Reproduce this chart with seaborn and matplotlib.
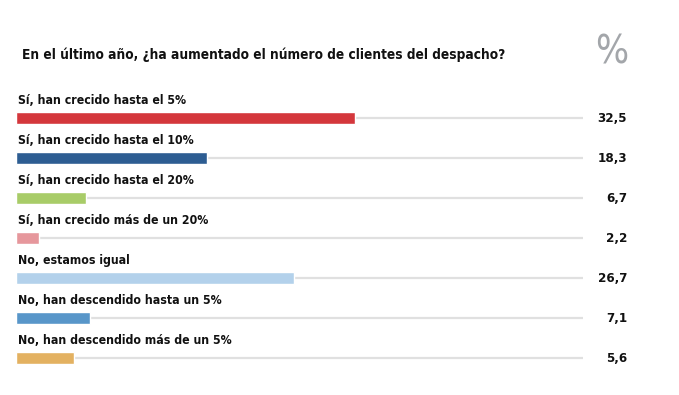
import matplotlib
matplotlib.use("Agg")
import matplotlib.pyplot as plt
import matplotlib.transforms as mtransforms
import seaborn as sns
import pandas as pd

categories = [
    "Sí, han crecido hasta el 5%",
    "Sí, han crecido hasta el 10%",
    "Sí, han crecido hasta el 20%",
    "Sí, han crecido más de un 20%",
    "No, estamos igual",
    "No, han descendido hasta un 5%",
    "No, han descendido más de un 5%",
]
values = [32.5, 18.3, 6.7, 2.2, 26.7, 7.1, 5.6]
value_labels = ["32,5", "18,3", "6,7", "2,2", "26,7", "7,1", "5,6"]
colors = ["#d4373c", "#2d5d92", "#a8cc68", "#e6979c", "#b3d1eb", "#5896c9", "#e3b161"]
title = "En el último año, ¿ha aumentado el número de clientes del despacho?"
axis_max = 54.4

sns.set_theme(style="white")
plt.rcParams["font.family"] = ["DejaVu Sans", "Liberation Sans"]
plt.rcParams["font.stretch"] = "condensed"

df = pd.DataFrame({"cat": categories, "val": values})

fig = plt.figure(figsize=(6.79, 3.95), dpi=100)
W, H = 679, 395
left, right = 16, 583
top_px, bot_px = 98, 378
ax = fig.add_axes([left / W, (H - bot_px) / H, (right - left) / W, (bot_px - top_px) / H])

for i in range(len(categories)):
    ax.axhline(i + 0.01, xmin=0, xmax=1, color="#e0e0e0", lw=1.6, zorder=0)

sns.barplot(data=df, x="val", y="cat", hue="cat", palette=colors, legend=False,
            orient="h", width=0.29, ax=ax, saturation=1, zorder=2)

ax.set_xlim(0, axis_max)
ax.set_ylim(len(categories) - 0.5, -0.5)
ax.axis("off")

trans = mtransforms.blended_transform_factory(ax.transAxes, ax.transData)
for i, (cat, lab) in enumerate(zip(categories, value_labels)):
    ax.text(0.004, i - 0.44, cat, transform=trans, ha="left", va="center",
            fontsize=8.8, color="#111111", fontweight="bold")
    ax.text(1.078, i + 0.02, lab, transform=trans, ha="right", va="center",
            fontsize=9.5, color="#111111", fontweight="bold")

fig.text(22 / W, 1 - 55 / H, title, ha="left", va="center", fontsize=9.8,
         fontweight="bold", color="#111111")
fig.text(612 / W, 1 - 53 / H, "%", ha="center", va="center", fontsize=28,
         color="#a3a6aa", fontweight="light")

fig.savefig("out.png", dpi=100, facecolor="white")
